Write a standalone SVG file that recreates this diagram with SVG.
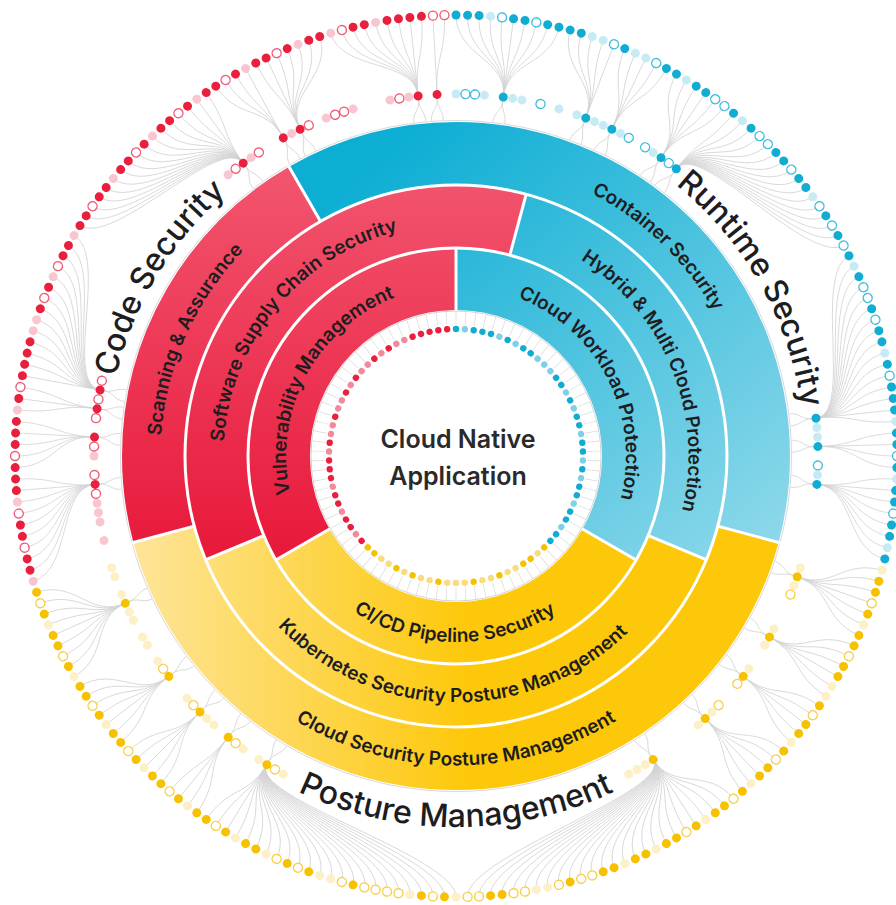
<svg xmlns="http://www.w3.org/2000/svg" xmlns:xlink="http://www.w3.org/1999/xlink" width="896" height="905" viewBox="0 0 896 905">
<style>
.c{fill:#10acd2}.cl{fill:#c6ebf5}.co{fill:#fff;stroke:#3fbddc;stroke-width:1.4}
.r{fill:#e81f3d}.rl{fill:#f9c6d0}.ro{fill:#fff;stroke:#ee5d76;stroke-width:1.4}
.y{fill:#f6c200}.yl{fill:#fdefc6}.yo{fill:#fff;stroke:#f7cf4a;stroke-width:1.4}
.in .rl{fill:#f2899d}.in .cl{fill:#7fd0e6}.in .yl{fill:#f9dc7e}
text{font-family:Inter,"Noto Sans","Liberation Sans",sans-serif;fill:#1d1d1f}
.big{font-size:32px;font-weight:500}
.lab{font-size:19px;font-weight:600}
.ctr{font-size:25px;font-weight:600;fill:#2a2a2a}
.band{fill:none;}
</style>
<defs>
<linearGradient id="gr" gradientUnits="userSpaceOnUse" x1="0" y1="130" x2="0" y2="560"><stop offset="0" stop-color="#f35b74"/><stop offset="1" stop-color="#e8183a"/></linearGradient>
<linearGradient id="gc" gradientUnits="userSpaceOnUse" x1="420" y1="120" x2="780" y2="540"><stop offset="0" stop-color="#0daed4"/><stop offset="1" stop-color="#8dd8ea"/></linearGradient>
<linearGradient id="gy" gradientUnits="userSpaceOnUse" x1="130" y1="0" x2="470" y2="0"><stop offset="0" stop-color="#fee59a"/><stop offset="1" stop-color="#fdc80a"/></linearGradient>
<circle id="o" cy="-441" r="4.5"/>
<circle id="m" cy="-362" r="4.5"/>
<circle id="n" cy="-127" r="3.2"/>
<path id="dn" d="M0,-358C0,-347 -7,-347 -7,-336M0,-358C0,-347 5,-347 5,-336"/>
<path id="k0" d="M0,-362V-441"/>
<path id="k1" d="M0,-362C0,-400 10.47,-399.86 11.54,-440.85"/>
<path id="k2" d="M0,-362C0,-400 20.93,-399.45 23.08,-440.4"/>
<path id="k3" d="M0,-362C0,-400 31.38,-398.77 34.6,-439.64"/>
<path id="k4" d="M0,-362C0,-400 41.81,-397.81 46.1,-438.58"/>
<path id="k5" d="M0,-362C0,-400 52.21,-396.58 57.56,-437.23"/>
<path id="k6" d="M0,-362C0,-400 62.57,-395.08 68.99,-435.57"/>
<path id="k7" d="M0,-362C0,-400 72.89,-393.3 80.37,-433.62"/>
<path id="k8" d="M0,-362C0,-400 83.16,-391.26 91.69,-431.36"/>
<path id="k9" d="M0,-362C0,-400 93.38,-388.95 102.95,-428.82"/>
<path id="k10" d="M0,-362C0,-400 103.53,-386.37 114.14,-425.97"/>
<path id="k11" d="M0,-362C0,-400 113.61,-383.53 125.25,-422.84"/>
<path id="k12" d="M0,-362C0,-400 123.61,-380.42 136.28,-419.41"/>
<path id="k13" d="M0,-362C0,-400 133.52,-377.06 147.21,-415.7"/>
<path id="k14" d="M0,-362C0,-400 143.35,-373.43 158.04,-411.71"/>
<path id="k15" d="M0,-362C0,-400 153.07,-369.55 168.76,-407.43"/>
<path id="k16" d="M0,-362C0,-400 162.69,-365.42 179.37,-402.87"/>
<path id="k17" d="M0,-362C0,-400 172.2,-361.03 189.86,-398.04"/>
<path id="k18" d="M0,-362C0,-400 181.6,-356.4 200.21,-392.93"/>
<path id="k19" d="M0,-362C0,-400 190.86,-351.53 210.43,-387.56"/>
<path id="k20" d="M0,-362C0,-400 200,-346.41 220.5,-381.92"/>
<path id="k21" d="M0,-362C0,-400 209,-341.06 230.42,-376.01"/>
<g id="P2"><use href="#k1"/><use href="#k2"/></g>
<g id="P3"><use href="#P2"/><use href="#k3"/></g>
<g id="P4"><use href="#P3"/><use href="#k4"/></g>
<g id="P5"><use href="#P4"/><use href="#k5"/></g>
<g id="P6"><use href="#P5"/><use href="#k6"/></g>
<g id="P7"><use href="#P6"/><use href="#k7"/></g>
<g id="P8"><use href="#P7"/><use href="#k8"/></g>
<g id="P9"><use href="#P8"/><use href="#k9"/></g>
<g id="P10"><use href="#P9"/><use href="#k10"/></g>
<g id="P11"><use href="#P10"/><use href="#k11"/></g>
<g id="P12"><use href="#P11"/><use href="#k12"/></g>
<g id="P13"><use href="#P12"/><use href="#k13"/></g>
<g id="P14"><use href="#P13"/><use href="#k14"/></g>
<g id="P15"><use href="#P14"/><use href="#k15"/></g>
<g id="P16"><use href="#P15"/><use href="#k16"/></g>
<g id="P17"><use href="#P16"/><use href="#k17"/></g>
<g id="P18"><use href="#P17"/><use href="#k18"/></g>
<g id="P19"><use href="#P18"/><use href="#k19"/></g>
<g id="P20"><use href="#P19"/><use href="#k20"/></g>
<g id="P21"><use href="#P20"/><use href="#k21"/></g>
<path id="cw349" d="M456,805A349,349 0 1,1 456,107A349,349 0 1,1 456,805"/>
<path id="cw295" d="M456,751.5A295.5,295.5 0 1,1 456,160.5A295.5,295.5 0 1,1 456,751.5"/>
<path id="cw232" d="M456,688.5A232.5,232.5 0 1,1 456,223.5A232.5,232.5 0 1,1 456,688.5"/>
<path id="cw170" d="M456,626A170,170 0 1,1 456,286A170,170 0 1,1 456,626"/>
<path id="cc371" d="M456,85A371,371 0 1,0 456,827A371,371 0 1,0 456,85"/>
<path id="cc309" d="M456,146.5A309.5,309.5 0 1,0 456,765.5A309.5,309.5 0 1,0 456,146.5"/>
<path id="cc246" d="M456,209.5A246.5,246.5 0 1,0 456,702.5A246.5,246.5 0 1,0 456,209.5"/>
<path id="cc186" d="M456,270A186,186 0 1,0 456,642A186,186 0 1,0 456,270"/>
</defs>
<rect width="896" height="905" fill="#fff"/>

<g id="connectors" fill="none" stroke="#d3d3d3" stroke-width="0.8" transform="translate(456 456)">
<g transform="rotate(7.5)"><use href="#dn"/><use href="#k0"/><use href="#P4"/><use href="#P5" transform="scale(-1 1)"/></g>
<g transform="rotate(21)"><use href="#dn"/><use href="#k0"/><use href="#P4" transform="scale(-1 1)"/></g>
<g transform="rotate(25.5)"><use href="#dn"/><use href="#k0"/><use href="#P2"/><use href="#P2" transform="scale(-1 1)"/></g>
<g transform="rotate(34.5)"><use href="#dn"/><use href="#k0"/><use href="#P2"/><use href="#P3" transform="scale(-1 1)"/></g>
<g transform="rotate(37.5)"><use href="#dn"/><use href="#P16"/></g>
<g transform="rotate(84)"><use href="#dn"/><use href="#k0"/><use href="#k1"/><use href="#P14" transform="scale(-1 1)"/></g>
<g transform="rotate(88.5)"><use href="#dn"/><use href="#k0"/><use href="#P2"/><use href="#k1" transform="scale(-1 1)"/></g>
<g transform="rotate(94.5)"><use href="#dn"/><use href="#k0"/><use href="#P6"/><use href="#k1" transform="scale(-1 1)"/></g>
<g transform="rotate(265.5)"><use href="#dn"/><use href="#k0"/><use href="#k1"/><use href="#P8" transform="scale(-1 1)"/></g>
<g transform="rotate(273)"><use href="#dn"/><use href="#k0"/><use href="#k1"/><use href="#P3" transform="scale(-1 1)"/></g>
<g transform="rotate(277.5)"><use href="#dn"/><use href="#k0"/><use href="#k1"/><use href="#k1" transform="scale(-1 1)"/></g>
<g transform="rotate(280.5)"><use href="#dn"/><use href="#k0"/><use href="#P13"/></g>
<g transform="rotate(324)"><use href="#dn"/><use href="#k0"/><use href="#k1"/><use href="#P15" transform="scale(-1 1)"/></g>
<g transform="rotate(331.5)"><use href="#dn"/><use href="#k0"/><use href="#P3" transform="scale(-1 1)"/></g>
<g transform="rotate(334.5)"><use href="#dn"/><use href="#k0"/><use href="#P5"/><use href="#k1" transform="scale(-1 1)"/></g>
<g transform="rotate(354)"><use href="#dn"/><use href="#k0"/><use href="#k1"/><use href="#P7" transform="scale(-1 1)"/></g>
<g transform="rotate(357)"><use href="#dn"/><use href="#k0"/><use href="#k1"/></g>
<g transform="rotate(109.5)"><use href="#dn"/><use href="#k0"/><use href="#P3"/><use href="#P3" transform="scale(-1 1)"/></g>
<g transform="rotate(120)"><use href="#dn"/><use href="#k0"/><use href="#P2"/><use href="#P3" transform="scale(-1 1)"/></g>
<g transform="rotate(127.5)"><use href="#dn"/><use href="#k0"/><use href="#P2"/><use href="#P2" transform="scale(-1 1)"/></g>
<g transform="rotate(136.5)"><use href="#dn"/><use href="#k0"/><use href="#P2"/><use href="#P3" transform="scale(-1 1)"/></g>
<g transform="rotate(147)"><use href="#dn"/><use href="#k0"/><use href="#P21"/><use href="#P4" transform="scale(-1 1)"/></g>
<g transform="rotate(211.5)"><use href="#dn"/><use href="#k0"/><use href="#P2"/><use href="#P21" transform="scale(-1 1)"/></g>
<g transform="rotate(219)"><use href="#dn"/><use href="#k0"/><use href="#k1"/><use href="#P2" transform="scale(-1 1)"/></g>
<g transform="rotate(225)"><use href="#dn"/><use href="#k0"/><use href="#P2"/><use href="#P2" transform="scale(-1 1)"/></g>
<g transform="rotate(232.5)"><use href="#dn"/><use href="#k0"/><use href="#P4"/><use href="#P2" transform="scale(-1 1)"/></g>
<g transform="rotate(246)"><use href="#dn"/><use href="#k0"/><use href="#P4"/><use href="#P4" transform="scale(-1 1)"/></g>
</g>

<circle cx="456" cy="456" r="335.5" fill="none" stroke="#d9d9d9" stroke-width="1"/>

<g id="code-security">
<circle class="band" cx="456" cy="456" r="302.5" stroke="url(#gr)" stroke-width="63" pathLength="360" stroke-dasharray="75 285" stroke-dashoffset="-165"/>
<text class="lab" text-anchor="middle"><textPath href="#cw295" startOffset="31.67%">Scanning &amp; Assurance</textPath></text>
</g>
<g id="runtime-security">
<circle class="band" cx="456" cy="456" r="302.5" stroke="url(#gc)" stroke-width="63" pathLength="360" stroke-dasharray="135 225" stroke-dashoffset="-240"/>
<text class="lab" text-anchor="middle"><textPath href="#cw295" startOffset="62.22%">Container Security</textPath></text>
</g>
<g id="posture-management">
<circle class="band" cx="456" cy="456" r="302.5" stroke="url(#gy)" stroke-width="63" pathLength="360" stroke-dasharray="150 210" stroke-dashoffset="-15"/>
<text class="lab" text-anchor="middle"><textPath href="#cc309" startOffset="50%">Cloud Security Posture Management</textPath></text>
</g>
<g id="software-supply-chain">
<circle class="band" cx="456" cy="456" r="239.5" stroke="url(#gr)" stroke-width="63" pathLength="360" stroke-dasharray="127.5 232.5" stroke-dashoffset="-157.5"/>
<text class="lab" text-anchor="middle"><textPath href="#cw232" startOffset="35.97%">Software Supply Chain Security</textPath></text>
</g>
<g id="hybrid-multi-cloud">
<circle class="band" cx="456" cy="456" r="239.5" stroke="url(#gc)" stroke-width="63" pathLength="360" stroke-dasharray="97.5 262.5" stroke-dashoffset="-285"/>
<text class="lab" text-anchor="middle"><textPath href="#cw232" startOffset="68.89%">Hybrid &amp; Multi Cloud Protection</textPath></text>
</g>
<g id="kubernetes-spm">
<circle class="band" cx="456" cy="456" r="239.5" stroke="url(#gy)" stroke-width="63" pathLength="360" stroke-dasharray="135 225" stroke-dashoffset="-22.5"/>
<text class="lab" text-anchor="middle"><textPath href="#cc246" startOffset="49.72%">Kubernetes Security Posture Management</textPath></text>
</g>
<g id="vulnerability-management">
<circle class="band" cx="456" cy="456" r="177" stroke="url(#gr)" stroke-width="62" pathLength="360" stroke-dasharray="120 240" stroke-dashoffset="-150"/>
<text class="lab" text-anchor="middle"><textPath href="#cw170" startOffset="32.78%">Vulnerability Management</textPath></text>
</g>
<g id="cloud-workload-protection">
<circle class="band" cx="456" cy="456" r="177" stroke="url(#gc)" stroke-width="62" pathLength="360" stroke-dasharray="120 240" stroke-dashoffset="-270"/>
<text class="lab" text-anchor="middle"><textPath href="#cw170" startOffset="67.5%">Cloud Workload Protection</textPath></text>
</g>
<g id="cicd-pipeline-security">
<circle class="band" cx="456" cy="456" r="177" stroke="url(#gy)" stroke-width="62" pathLength="360" stroke-dasharray="120 240" stroke-dashoffset="-30"/>
<text class="lab" text-anchor="middle"><textPath href="#cc186" startOffset="49.9%">CI/CD Pipeline Security</textPath></text>
</g>

<g id="separators" stroke="#fff" stroke-width="3" fill="none" transform="translate(456 456)">
<circle r="271"/><circle r="208"/>
<line y1="-270" y2="-336" transform="rotate(255)"/>
<line y1="-270" y2="-336" transform="rotate(330)"/>
<line y1="-270" y2="-336" transform="rotate(105)"/>
<line y1="-207" y2="-272" transform="rotate(247.5)"/>
<line y1="-207" y2="-272" transform="rotate(15)"/>
<line y1="-207" y2="-272" transform="rotate(112.5)"/>
<line y1="-145" y2="-209" transform="rotate(240)"/>
<line y1="-145" y2="-209" transform="rotate(0)"/>
<line y1="-145" y2="-209" transform="rotate(120)"/>
</g>

<g id="center">
<circle cx="456" cy="456" r="145" fill="#fff" stroke="#d4d4d4" stroke-width="1"/>
<circle cx="456" cy="456" r="138" fill="none" stroke="#dadada" stroke-width="13" pathLength="360" stroke-dasharray="0.3 3.7" stroke-dashoffset="-1.85"/>
<text class="ctr" x="458" y="448" text-anchor="middle">Cloud Native</text>
<text class="ctr" x="458" y="485" text-anchor="middle">Application</text>
</g>

<g id="inner-dots" class="in" transform="translate(456 456)">
<use href="#n" class="c"/><use href="#n" class="cl" transform="rotate(4)"/><use href="#n" class="c" transform="rotate(8)"/><use href="#n" class="c" transform="rotate(12)"/><use href="#n" class="c" transform="rotate(16)"/><use href="#n" class="cl" transform="rotate(20)"/><use href="#n" class="c" transform="rotate(24)"/><use href="#n" class="cl" transform="rotate(28)"/><use href="#n" class="c" transform="rotate(32)"/><use href="#n" class="c" transform="rotate(36)"/><use href="#n" class="cl" transform="rotate(40)"/><use href="#n" class="cl" transform="rotate(44)"/><use href="#n" class="cl" transform="rotate(48)"/><use href="#n" class="c" transform="rotate(52)"/><use href="#n" class="c" transform="rotate(56)"/><use href="#n" class="cl" transform="rotate(60)"/><use href="#n" class="c" transform="rotate(64)"/><use href="#n" class="cl" transform="rotate(68)"/><use href="#n" class="c" transform="rotate(72)"/><use href="#n" class="c" transform="rotate(76)"/><use href="#n" class="cl" transform="rotate(80)"/><use href="#n" class="c" transform="rotate(84)"/><use href="#n" class="c" transform="rotate(88)"/><use href="#n" class="cl" transform="rotate(92)"/><use href="#n" class="c" transform="rotate(96)"/><use href="#n" class="cl" transform="rotate(100)"/><use href="#n" class="c" transform="rotate(104)"/><use href="#n" class="c" transform="rotate(108)"/><use href="#n" class="cl" transform="rotate(112)"/><use href="#n" class="c" transform="rotate(116)"/><use href="#n" class="c" transform="rotate(120)"/><use href="#n" class="cl" transform="rotate(124)"/><use href="#n" class="c" transform="rotate(128)"/><use href="#n" class="c" transform="rotate(132)"/>
<use href="#n" class="y" transform="rotate(136)"/><use href="#n" class="yl" transform="rotate(140)"/><use href="#n" class="y" transform="rotate(144)"/><use href="#n" class="y" transform="rotate(148)"/><use href="#n" class="yl" transform="rotate(152)"/><use href="#n" class="yl" transform="rotate(156)"/><use href="#n" class="y" transform="rotate(160)"/><use href="#n" class="yl" transform="rotate(164)"/><use href="#n" class="yl" transform="rotate(168)"/><use href="#n" class="y" transform="rotate(172)"/><use href="#n" class="yl" transform="rotate(176)"/><use href="#n" class="yl" transform="rotate(180)"/><use href="#n" class="yl" transform="rotate(184)"/><use href="#n" class="y" transform="rotate(188)"/><use href="#n" class="yl" transform="rotate(192)"/><use href="#n" class="yl" transform="rotate(196)"/><use href="#n" class="y" transform="rotate(200)"/><use href="#n" class="yl" transform="rotate(204)"/><use href="#n" class="y" transform="rotate(208)"/><use href="#n" class="yl" transform="rotate(212)"/><use href="#n" class="yl" transform="rotate(216)"/><use href="#n" class="y" transform="rotate(220)"/><use href="#n" class="y" transform="rotate(224)"/>
<use href="#n" class="r" transform="rotate(228)"/><use href="#n" class="rl" transform="rotate(232)"/><use href="#n" class="r" transform="rotate(236)"/><use href="#n" class="r" transform="rotate(240)"/><use href="#n" class="rl" transform="rotate(244)"/><use href="#n" class="r" transform="rotate(248)"/><use href="#n" class="r" transform="rotate(252)"/><use href="#n" class="rl" transform="rotate(256)"/><use href="#n" class="r" transform="rotate(260)"/><use href="#n" class="r" transform="rotate(264)"/><use href="#n" class="r" transform="rotate(268)"/><use href="#n" class="rl" transform="rotate(272)"/><use href="#n" class="r" transform="rotate(276)"/><use href="#n" class="rl" transform="rotate(280)"/><use href="#n" class="rl" transform="rotate(284)"/><use href="#n" class="r" transform="rotate(288)"/><use href="#n" class="rl" transform="rotate(292)"/><use href="#n" class="rl" transform="rotate(296)"/><use href="#n" class="r" transform="rotate(300)"/><use href="#n" class="rl" transform="rotate(304)"/><use href="#n" class="r" transform="rotate(308)"/><use href="#n" class="rl" transform="rotate(312)"/><use href="#n" class="rl" transform="rotate(316)"/><use href="#n" class="r" transform="rotate(320)"/><use href="#n" class="rl" transform="rotate(324)"/><use href="#n" class="r" transform="rotate(328)"/><use href="#n" class="rl" transform="rotate(332)"/><use href="#n" class="rl" transform="rotate(336)"/><use href="#n" class="r" transform="rotate(340)"/><use href="#n" class="r" transform="rotate(344)"/><use href="#n" class="r" transform="rotate(348)"/><use href="#n" class="r" transform="rotate(352)"/><use href="#n" class="r" transform="rotate(356)"/>
</g>

<g id="mid-dots" transform="translate(456 456)">
<use href="#m" class="cl"/><use href="#m" class="co" transform="rotate(1.5)"/><use href="#m" class="co" transform="rotate(3)"/><use href="#m" class="cl" transform="rotate(4.5)"/><use href="#m" class="c" transform="rotate(7.5)"/><use href="#m" class="cl" transform="rotate(9)"/><use href="#m" class="cl" transform="rotate(10.5)"/><use href="#m" class="co" transform="rotate(13.5)"/><use href="#m" class="cl" transform="rotate(16.5)"/><use href="#m" class="cl" transform="rotate(19.5)"/><use href="#m" class="c" transform="rotate(21)"/><use href="#m" class="cl" transform="rotate(22.5)"/><use href="#m" class="cl" transform="rotate(24)"/><use href="#m" class="c" transform="rotate(25.5)"/><use href="#m" class="cl" transform="rotate(27)"/><use href="#m" class="co" transform="rotate(28.5)"/><use href="#m" class="co" transform="rotate(31.5)"/><use href="#m" class="cl" transform="rotate(33)"/><use href="#m" class="c" transform="rotate(34.5)"/><use href="#m" class="co" transform="rotate(36)"/><use href="#m" class="c" transform="rotate(37.5)"/><use href="#m" class="c" transform="rotate(84)"/><use href="#m" class="cl" transform="rotate(85.5)"/><use href="#m" class="cl" transform="rotate(87)"/><use href="#m" class="c" transform="rotate(88.5)"/><use href="#m" class="co" transform="rotate(91.5)"/><use href="#m" class="cl" transform="rotate(93)"/><use href="#m" class="c" transform="rotate(94.5)"/>
<use href="#m" class="yl" transform="rotate(108)"/><use href="#m" class="y" transform="rotate(109.5)"/><use href="#m" class="yl" transform="rotate(111)"/><use href="#m" class="yo" transform="rotate(112.5)"/><use href="#m" class="yl" transform="rotate(118.5)"/><use href="#m" class="y" transform="rotate(120)"/><use href="#m" class="yl" transform="rotate(121.5)"/><use href="#m" class="yl" transform="rotate(126)"/><use href="#m" class="y" transform="rotate(127.5)"/><use href="#m" class="yo" transform="rotate(129)"/><use href="#m" class="yo" transform="rotate(133.5)"/><use href="#m" class="yl" transform="rotate(135)"/><use href="#m" class="y" transform="rotate(136.5)"/><use href="#m" class="yl" transform="rotate(138)"/><use href="#m" class="y" transform="rotate(147)"/><use href="#m" class="yl" transform="rotate(148.5)"/><use href="#m" class="yl" transform="rotate(150)"/><use href="#m" class="yl" transform="rotate(151.5)"/><use href="#m" class="yl" transform="rotate(208.5)"/><use href="#m" class="yo" transform="rotate(210)"/><use href="#m" class="y" transform="rotate(211.5)"/><use href="#m" class="yl" transform="rotate(213)"/><use href="#m" class="yl" transform="rotate(216)"/><use href="#m" class="yo" transform="rotate(217.5)"/><use href="#m" class="y" transform="rotate(219)"/><use href="#m" class="yl" transform="rotate(222)"/><use href="#m" class="yl" transform="rotate(223.5)"/><use href="#m" class="y" transform="rotate(225)"/><use href="#m" class="yo" transform="rotate(226.5)"/><use href="#m" class="yl" transform="rotate(228)"/><use href="#m" class="y" transform="rotate(232.5)"/><use href="#m" class="yo" transform="rotate(234)"/><use href="#m" class="yl" transform="rotate(235.5)"/><use href="#m" class="yl" transform="rotate(238.5)"/><use href="#m" class="yl" transform="rotate(240)"/><use href="#m" class="yl" transform="rotate(243)"/><use href="#m" class="yl" transform="rotate(244.5)"/><use href="#m" class="y" transform="rotate(246)"/><use href="#m" class="yl" transform="rotate(247.5)"/><use href="#m" class="yl" transform="rotate(250.5)"/><use href="#m" class="yl" transform="rotate(252)"/>
<use href="#m" class="rl" transform="rotate(256.5)"/><use href="#m" class="rl" transform="rotate(259.5)"/><use href="#m" class="rl" transform="rotate(261)"/><use href="#m" class="rl" transform="rotate(262.5)"/><use href="#m" class="ro" transform="rotate(264)"/><use href="#m" class="r" transform="rotate(265.5)"/><use href="#m" class="ro" transform="rotate(267)"/><use href="#m" class="rl" transform="rotate(270)"/><use href="#m" class="ro" transform="rotate(271.5)"/><use href="#m" class="r" transform="rotate(273)"/><use href="#m" class="ro" transform="rotate(276)"/><use href="#m" class="r" transform="rotate(277.5)"/><use href="#m" class="ro" transform="rotate(279)"/><use href="#m" class="r" transform="rotate(280.5)"/><use href="#m" class="ro" transform="rotate(282)"/><use href="#m" class="rl" transform="rotate(321)"/><use href="#m" class="ro" transform="rotate(322.5)"/><use href="#m" class="r" transform="rotate(324)"/><use href="#m" class="rl" transform="rotate(325.5)"/><use href="#m" class="ro" transform="rotate(327)"/><use href="#m" class="r" transform="rotate(331.5)"/><use href="#m" class="rl" transform="rotate(333)"/><use href="#m" class="r" transform="rotate(334.5)"/><use href="#m" class="ro" transform="rotate(336)"/><use href="#m" class="rl" transform="rotate(339)"/><use href="#m" class="ro" transform="rotate(340.5)"/><use href="#m" class="ro" transform="rotate(342)"/><use href="#m" class="rl" transform="rotate(343.5)"/><use href="#m" class="rl" transform="rotate(349.5)"/><use href="#m" class="ro" transform="rotate(351)"/><use href="#m" class="rl" transform="rotate(352.5)"/><use href="#m" class="r" transform="rotate(354)"/><use href="#m" class="r" transform="rotate(357)"/>
</g>

<g id="outer-dots" transform="translate(456 456)">
<use href="#o" class="c"/><use href="#o" class="c" transform="rotate(1.5)"/><use href="#o" class="c" transform="rotate(3)"/><use href="#o" class="cl" transform="rotate(4.5)"/><use href="#o" class="co" transform="rotate(6)"/><use href="#o" class="c" transform="rotate(7.5)"/><use href="#o" class="c" transform="rotate(9)"/><use href="#o" class="co" transform="rotate(10.5)"/><use href="#o" class="c" transform="rotate(12)"/><use href="#o" class="c" transform="rotate(13.5)"/><use href="#o" class="c" transform="rotate(15)"/><use href="#o" class="c" transform="rotate(16.5)"/><use href="#o" class="cl" transform="rotate(18)"/><use href="#o" class="cl" transform="rotate(19.5)"/><use href="#o" class="co" transform="rotate(21)"/><use href="#o" class="c" transform="rotate(22.5)"/><use href="#o" class="cl" transform="rotate(24)"/><use href="#o" class="cl" transform="rotate(25.5)"/><use href="#o" class="co" transform="rotate(27)"/><use href="#o" class="c" transform="rotate(28.5)"/><use href="#o" class="c" transform="rotate(30)"/><use href="#o" class="cl" transform="rotate(31.5)"/><use href="#o" class="c" transform="rotate(33)"/><use href="#o" class="c" transform="rotate(34.5)"/><use href="#o" class="co" transform="rotate(36)"/><use href="#o" class="co" transform="rotate(37.5)"/><use href="#o" class="c" transform="rotate(39)"/><use href="#o" class="cl" transform="rotate(40.5)"/><use href="#o" class="c" transform="rotate(42)"/><use href="#o" class="co" transform="rotate(43.5)"/><use href="#o" class="co" transform="rotate(45)"/><use href="#o" class="c" transform="rotate(46.5)"/><use href="#o" class="c" transform="rotate(48)"/><use href="#o" class="co" transform="rotate(49.5)"/><use href="#o" class="c" transform="rotate(51)"/><use href="#o" class="c" transform="rotate(52.5)"/><use href="#o" class="cl" transform="rotate(54)"/><use href="#o" class="co" transform="rotate(55.5)"/><use href="#o" class="c" transform="rotate(57)"/><use href="#o" class="co" transform="rotate(58.5)"/><use href="#o" class="c" transform="rotate(60)"/><use href="#o" class="co" transform="rotate(61.5)"/><use href="#o" class="c" transform="rotate(63)"/><use href="#o" class="cl" transform="rotate(64.5)"/><use href="#o" class="c" transform="rotate(66)"/><use href="#o" class="co" transform="rotate(67.5)"/><use href="#o" class="co" transform="rotate(69)"/><use href="#o" class="c" transform="rotate(70.5)"/><use href="#o" class="co" transform="rotate(72)"/><use href="#o" class="c" transform="rotate(73.5)"/><use href="#o" class="c" transform="rotate(75)"/><use href="#o" class="cl" transform="rotate(76.5)"/><use href="#o" class="c" transform="rotate(78)"/><use href="#o" class="co" transform="rotate(79.5)"/><use href="#o" class="c" transform="rotate(81)"/><use href="#o" class="c" transform="rotate(82.5)"/><use href="#o" class="c" transform="rotate(84)"/><use href="#o" class="cl" transform="rotate(85.5)"/><use href="#o" class="c" transform="rotate(87)"/><use href="#o" class="c" transform="rotate(88.5)"/><use href="#o" class="co" transform="rotate(90)"/><use href="#o" class="c" transform="rotate(91.5)"/><use href="#o" class="cl" transform="rotate(93)"/><use href="#o" class="c" transform="rotate(94.5)"/><use href="#o" class="c" transform="rotate(96)"/><use href="#o" class="co" transform="rotate(97.5)"/><use href="#o" class="c" transform="rotate(99)"/><use href="#o" class="c" transform="rotate(100.5)"/><use href="#o" class="cl" transform="rotate(102)"/><use href="#o" class="c" transform="rotate(103.5)"/>
<use href="#o" class="yl" transform="rotate(105)"/><use href="#o" class="y" transform="rotate(106.5)"/><use href="#o" class="y" transform="rotate(108)"/><use href="#o" class="yo" transform="rotate(109.5)"/><use href="#o" class="y" transform="rotate(111)"/><use href="#o" class="yl" transform="rotate(112.5)"/><use href="#o" class="y" transform="rotate(114)"/><use href="#o" class="y" transform="rotate(115.5)"/><use href="#o" class="yo" transform="rotate(117)"/><use href="#o" class="y" transform="rotate(118.5)"/><use href="#o" class="y" transform="rotate(120)"/><use href="#o" class="yl" transform="rotate(121.5)"/><use href="#o" class="yl" transform="rotate(123)"/><use href="#o" class="y" transform="rotate(124.5)"/><use href="#o" class="yo" transform="rotate(126)"/><use href="#o" class="y" transform="rotate(127.5)"/><use href="#o" class="y" transform="rotate(129)"/><use href="#o" class="yl" transform="rotate(130.5)"/><use href="#o" class="y" transform="rotate(132)"/><use href="#o" class="yo" transform="rotate(133.5)"/><use href="#o" class="y" transform="rotate(135)"/><use href="#o" class="y" transform="rotate(136.5)"/><use href="#o" class="yl" transform="rotate(138)"/><use href="#o" class="y" transform="rotate(139.5)"/><use href="#o" class="yo" transform="rotate(141)"/><use href="#o" class="y" transform="rotate(142.5)"/><use href="#o" class="y" transform="rotate(144)"/><use href="#o" class="yl" transform="rotate(145.5)"/><use href="#o" class="y" transform="rotate(147)"/><use href="#o" class="yo" transform="rotate(148.5)"/><use href="#o" class="y" transform="rotate(150)"/><use href="#o" class="y" transform="rotate(151.5)"/><use href="#o" class="yl" transform="rotate(153)"/><use href="#o" class="y" transform="rotate(154.5)"/><use href="#o" class="y" transform="rotate(156)"/><use href="#o" class="yl" transform="rotate(157.5)"/><use href="#o" class="y" transform="rotate(159)"/><use href="#o" class="y" transform="rotate(160.5)"/><use href="#o" class="yo" transform="rotate(162)"/><use href="#o" class="yo" transform="rotate(163.5)"/><use href="#o" class="y" transform="rotate(165)"/><use href="#o" class="yo" transform="rotate(166.5)"/><use href="#o" class="yl" transform="rotate(168)"/><use href="#o" class="yl" transform="rotate(169.5)"/><use href="#o" class="yo" transform="rotate(171)"/><use href="#o" class="yo" transform="rotate(172.5)"/><use href="#o" class="y" transform="rotate(174)"/><use href="#o" class="y" transform="rotate(175.5)"/><use href="#o" class="yo" transform="rotate(177)"/><use href="#o" class="yo" transform="rotate(178.5)"/><use href="#o" class="yl" transform="rotate(180)"/><use href="#o" class="y" transform="rotate(181.5)"/><use href="#o" class="yo" transform="rotate(183)"/><use href="#o" class="y" transform="rotate(184.5)"/><use href="#o" class="yl" transform="rotate(186)"/><use href="#o" class="yo" transform="rotate(187.5)"/><use href="#o" class="yo" transform="rotate(189)"/><use href="#o" class="yo" transform="rotate(190.5)"/><use href="#o" class="yo" transform="rotate(192)"/><use href="#o" class="y" transform="rotate(193.5)"/><use href="#o" class="yo" transform="rotate(195)"/><use href="#o" class="yl" transform="rotate(196.5)"/><use href="#o" class="yl" transform="rotate(198)"/><use href="#o" class="y" transform="rotate(199.5)"/><use href="#o" class="yo" transform="rotate(201)"/><use href="#o" class="y" transform="rotate(202.5)"/><use href="#o" class="yo" transform="rotate(204)"/><use href="#o" class="yl" transform="rotate(205.5)"/><use href="#o" class="y" transform="rotate(207)"/><use href="#o" class="y" transform="rotate(208.5)"/><use href="#o" class="yl" transform="rotate(210)"/><use href="#o" class="y" transform="rotate(211.5)"/><use href="#o" class="yo" transform="rotate(213)"/><use href="#o" class="y" transform="rotate(214.5)"/><use href="#o" class="y" transform="rotate(216)"/><use href="#o" class="yl" transform="rotate(217.5)"/><use href="#o" class="y" transform="rotate(219)"/><use href="#o" class="yo" transform="rotate(220.5)"/><use href="#o" class="y" transform="rotate(222)"/><use href="#o" class="y" transform="rotate(223.5)"/><use href="#o" class="yl" transform="rotate(225)"/><use href="#o" class="y" transform="rotate(226.5)"/><use href="#o" class="yo" transform="rotate(228)"/><use href="#o" class="y" transform="rotate(229.5)"/><use href="#o" class="y" transform="rotate(231)"/><use href="#o" class="yl" transform="rotate(232.5)"/><use href="#o" class="y" transform="rotate(234)"/><use href="#o" class="yo" transform="rotate(235.5)"/><use href="#o" class="y" transform="rotate(237)"/><use href="#o" class="y" transform="rotate(238.5)"/><use href="#o" class="yl" transform="rotate(240)"/><use href="#o" class="y" transform="rotate(241.5)"/><use href="#o" class="yo" transform="rotate(243)"/><use href="#o" class="y" transform="rotate(244.5)"/><use href="#o" class="y" transform="rotate(246)"/><use href="#o" class="yl" transform="rotate(247.5)"/><use href="#o" class="y" transform="rotate(249)"/><use href="#o" class="yo" transform="rotate(250.5)"/><use href="#o" class="y" transform="rotate(252)"/>
<use href="#o" class="rl" transform="rotate(253.5)"/><use href="#o" class="r" transform="rotate(255)"/><use href="#o" class="r" transform="rotate(256.5)"/><use href="#o" class="ro" transform="rotate(258)"/><use href="#o" class="r" transform="rotate(259.5)"/><use href="#o" class="r" transform="rotate(261)"/><use href="#o" class="ro" transform="rotate(262.5)"/><use href="#o" class="rl" transform="rotate(264)"/><use href="#o" class="r" transform="rotate(265.5)"/><use href="#o" class="r" transform="rotate(267)"/><use href="#o" class="r" transform="rotate(268.5)"/><use href="#o" class="ro" transform="rotate(270)"/><use href="#o" class="r" transform="rotate(271.5)"/><use href="#o" class="r" transform="rotate(273)"/><use href="#o" class="r" transform="rotate(274.5)"/><use href="#o" class="rl" transform="rotate(276)"/><use href="#o" class="r" transform="rotate(277.5)"/><use href="#o" class="ro" transform="rotate(279)"/><use href="#o" class="r" transform="rotate(280.5)"/><use href="#o" class="r" transform="rotate(282)"/><use href="#o" class="r" transform="rotate(283.5)"/><use href="#o" class="r" transform="rotate(285)"/><use href="#o" class="rl" transform="rotate(286.5)"/><use href="#o" class="rl" transform="rotate(288)"/><use href="#o" class="r" transform="rotate(289.5)"/><use href="#o" class="ro" transform="rotate(291)"/><use href="#o" class="r" transform="rotate(292.5)"/><use href="#o" class="rl" transform="rotate(294)"/><use href="#o" class="ro" transform="rotate(295.5)"/><use href="#o" class="r" transform="rotate(297)"/><use href="#o" class="r" transform="rotate(298.5)"/><use href="#o" class="rl" transform="rotate(300)"/><use href="#o" class="r" transform="rotate(301.5)"/><use href="#o" class="r" transform="rotate(303)"/><use href="#o" class="ro" transform="rotate(304.5)"/><use href="#o" class="r" transform="rotate(306)"/><use href="#o" class="r" transform="rotate(307.5)"/><use href="#o" class="rl" transform="rotate(309)"/><use href="#o" class="r" transform="rotate(310.5)"/><use href="#o" class="r" transform="rotate(312)"/><use href="#o" class="ro" transform="rotate(313.5)"/><use href="#o" class="r" transform="rotate(315)"/><use href="#o" class="rl" transform="rotate(316.5)"/><use href="#o" class="r" transform="rotate(318)"/><use href="#o" class="r" transform="rotate(319.5)"/><use href="#o" class="ro" transform="rotate(321)"/><use href="#o" class="r" transform="rotate(322.5)"/><use href="#o" class="rl" transform="rotate(324)"/><use href="#o" class="r" transform="rotate(325.5)"/><use href="#o" class="r" transform="rotate(327)"/><use href="#o" class="ro" transform="rotate(328.5)"/><use href="#o" class="r" transform="rotate(330)"/><use href="#o" class="rl" transform="rotate(331.5)"/><use href="#o" class="r" transform="rotate(333)"/><use href="#o" class="r" transform="rotate(334.5)"/><use href="#o" class="ro" transform="rotate(336)"/><use href="#o" class="r" transform="rotate(337.5)"/><use href="#o" class="rl" transform="rotate(339)"/><use href="#o" class="r" transform="rotate(340.5)"/><use href="#o" class="r" transform="rotate(342)"/><use href="#o" class="rl" transform="rotate(343.5)"/><use href="#o" class="ro" transform="rotate(345)"/><use href="#o" class="r" transform="rotate(346.5)"/><use href="#o" class="r" transform="rotate(348)"/><use href="#o" class="rl" transform="rotate(349.5)"/><use href="#o" class="r" transform="rotate(351)"/><use href="#o" class="r" transform="rotate(352.5)"/><use href="#o" class="r" transform="rotate(354)"/><use href="#o" class="r" transform="rotate(355.5)"/><use href="#o" class="ro" transform="rotate(357)"/><use href="#o" class="ro" transform="rotate(358.5)"/>
</g>

<g id="category-labels">
<text class="big" text-anchor="middle"><textPath href="#cw349" startOffset="33.61%">Code Security</textPath></text>
<text class="big" text-anchor="middle"><textPath href="#cw349" startOffset="66.81%">Runtime Security</textPath></text>
<text class="big" text-anchor="middle"><textPath href="#cc371" startOffset="50%">Posture Management</textPath></text>
</g>
</svg>
